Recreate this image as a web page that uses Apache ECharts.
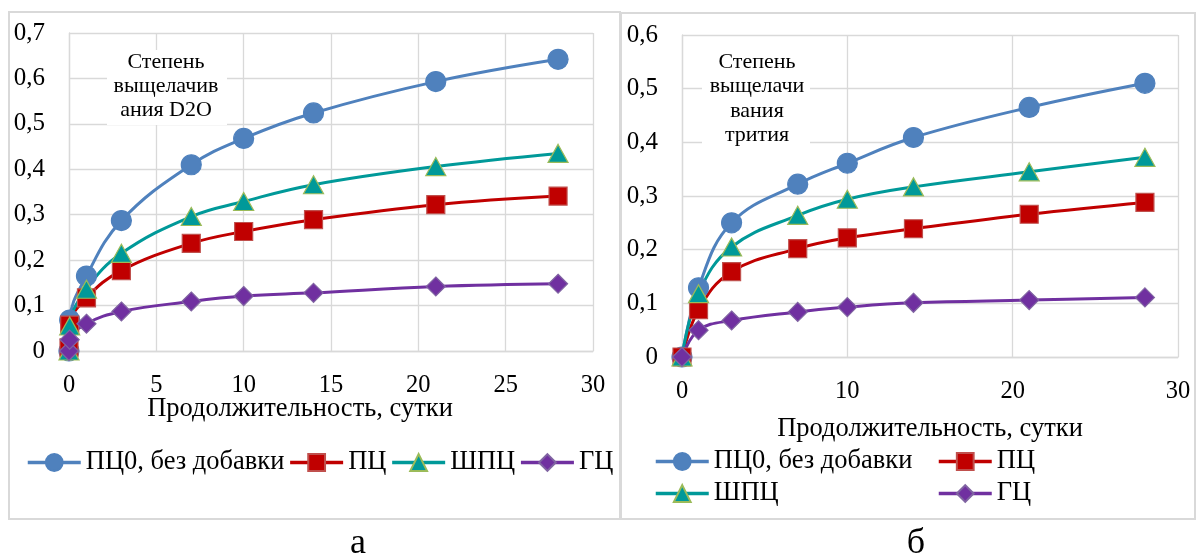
<!DOCTYPE html>
<html>
<head>
<meta charset="utf-8">
<script src="https://cdn.jsdelivr.net/npm/echarts@6/dist/echarts.min.js"></script>
<style>
  html, body { margin: 0; padding: 0; background: #ffffff; }
  #chart { width: 1197px; height: 556px; }
</style>
</head>
<body>
<div id="chart"></div>
<script>
// Leaching degree over time, panel "а" (D2O) and panel "б" (tritium)
const seriesNames = ['ПЦ0, без добавки', 'ПЦ', 'ШПЦ', 'ГЦ'];

// Panel а: leaching degree of D2O
const daysA = [0, 0.04, 1, 3, 7, 10, 14, 21, 28];
const pc0A  = [0, 0.068, 0.165, 0.287, 0.410, 0.468, 0.524, 0.593, 0.642];
const pcA   = [0.007, 0.057, 0.117, 0.177, 0.237, 0.263, 0.289, 0.322, 0.341];
const shpcA = [0, 0.055, 0.136, 0.215, 0.296, 0.329, 0.366, 0.406, 0.435];
const gcA   = [0, 0.025, 0.060, 0.087, 0.109, 0.121, 0.128, 0.142, 0.148];

// Panel б: leaching degree of tritium
const daysB = [0, 1, 3, 7, 10, 14, 21, 28];
const pc0B  = [0, 0.129, 0.250, 0.322, 0.361, 0.409, 0.465, 0.510];
const pcB   = [0, 0.088, 0.159, 0.202, 0.222, 0.239, 0.266, 0.288];
const shpcB = [0, 0.118, 0.205, 0.264, 0.294, 0.317, 0.345, 0.372];
const gcB   = [0, 0.050, 0.068, 0.084, 0.093, 0.101, 0.106, 0.111];

// Tick labels
const yTicksA = ['0', '0,1', '0,2', '0,3', '0,4', '0,5', '0,6', '0,7'];
const yTicksB = ['0', '0,1', '0,2', '0,3', '0,4', '0,5', '0,6'];
const xTitle = 'Продолжительность, сутки';
const noteA = 'Степень\nвыщелачив\nания D2O';
const noteB = 'Степень\nвыщелачи\nвания\nтрития';
const captions = ['а', 'б'];

const FONT = '"Liberation Serif", "DejaVu Serif", serif';
const GRID_COLOR = '#d9d9d9';

const styles = [
  { color: '#4f81bd', line: '#4f81bd', border: '#4f81bd', symbol: 'circle', size: 20 },
  { color: '#c00000', line: '#c00000', border: '#c0504d', symbol: 'rect', size: 18 },
  { color: '#009999', line: '#009999', border: '#9bbb59', symbol: 'triangle', size: [20, 18] },
  { color: '#7030a0', line: '#7030a0', border: '#8064a2', symbol: 'diamond', size: 19 }
];

function pairs(xs, ys) { return xs.map((x, i) => [x, ys[i]]); }

function makeSeries(name, idx, data, axisIndex) {
  const s = styles[idx];
  return {
    name: name,
    type: 'line',
    xAxisIndex: axisIndex,
    yAxisIndex: axisIndex,
    data: data,
    smooth: 0.4,
    symbol: s.symbol,
    symbolSize: s.size,
    lineStyle: { color: s.line, width: 3 },
    itemStyle: { color: s.color, borderColor: s.border, borderWidth: 1.2 },
    emphasis: { disabled: true },
    animation: false
  };
}

function valueAxis(gridIndex, max, interval, ticks, isY) {
  return {
    type: 'value',
    gridIndex: gridIndex,
    min: 0,
    max: max,
    interval: interval,
    axisLine: { show: true, lineStyle: { color: GRID_COLOR, width: 1.3 } },
    axisTick: { show: false },
    splitLine: { show: true, lineStyle: { color: GRID_COLOR, width: 1.3 } },
    axisLabel: {
      color: '#000',
      fontFamily: FONT,
      fontSize: isY ? 25 : 24.5,
      margin: isY ? 24 : 22,
      formatter: ticks ? (v) => ticks[Math.round(v / interval)] : (v) => String(v)
    }
  };
}

const legendText = { color: '#000', fontFamily: FONT, fontSize: 26.5 };
const legendCommon = {
  itemWidth: 53, itemHeight: 21, textStyle: legendText,
  lineStyle: { width: 3.5 },
  padding: 0,
  selectedMode: false
};

const option = {
  backgroundColor: '#ffffff',
  textStyle: { fontFamily: FONT },
  grid: [
    { left: 69, top: 33, width: 524, height: 318 },
    { left: 682, top: 35, width: 496, height: 322 }
  ],
  xAxis: [
    valueAxis(0, 30, 5, null, false),
    valueAxis(1, 30, 10, null, false)
  ],
  yAxis: [
    valueAxis(0, 0.7, 0.1, yTicksA, true),
    valueAxis(1, 0.6, 0.1, yTicksB, true)
  ],
  legend: [
    Object.assign({ data: seriesNames, left: 26, top: 449, orient: 'horizontal', itemGap: 4 }, legendCommon),
    Object.assign({ data: [seriesNames[0], seriesNames[2]], left: 654, top: 448, orient: 'vertical', itemGap: 5 }, legendCommon),
    Object.assign({ data: [seriesNames[1], seriesNames[3]], left: 937, top: 448, orient: 'vertical', itemGap: 5 }, legendCommon)
  ],
  graphic: [
    // panel frames
    { type: 'rect', shape: { x: 9, y: 12, width: 611, height: 507 }, style: { fill: 'none', stroke: GRID_COLOR, lineWidth: 2 }, z: -1 },
    { type: 'rect', shape: { x: 621, y: 13, width: 574, height: 506 }, style: { fill: 'none', stroke: GRID_COLOR, lineWidth: 2 }, z: -1 },
    // in-plot notes
    { type: 'rect', shape: { x: 107, y: 50, width: 120, height: 75 }, style: { fill: '#fff' }, z: 10 },
    { type: 'text', x: 166, y: 50, z: 11,
      style: { text: noteA, fill: '#000', font: '22px ' + FONT, textAlign: 'center', textVerticalAlign: 'top', lineHeight: 24 } },
    { type: 'rect', shape: { x: 702, y: 52, width: 108, height: 95 }, style: { fill: '#fff' }, z: 10 },
    { type: 'text', x: 757, y: 50, z: 11,
      style: { text: noteB, fill: '#000', font: '22px ' + FONT, textAlign: 'center', textVerticalAlign: 'top', lineHeight: 24.3 } },
    // axis titles
    { type: 'text', x: 300, y: 409, z: 5,
      style: { text: xTitle, fill: '#000', font: '26.5px ' + FONT, textAlign: 'center', textVerticalAlign: 'middle' } },
    { type: 'text', x: 930, y: 429, z: 5,
      style: { text: xTitle, fill: '#000', font: '26.5px ' + FONT, textAlign: 'center', textVerticalAlign: 'middle' } },
    // panel captions
    { type: 'text', x: 358, y: 544, z: 5,
      style: { text: captions[0], fill: '#000', font: '36px ' + FONT, textAlign: 'center', textVerticalAlign: 'middle' } },
    { type: 'text', x: 916, y: 544, z: 5,
      style: { text: captions[1], fill: '#000', font: '36px ' + FONT, textAlign: 'center', textVerticalAlign: 'middle' } }
  ],
  series: [
    makeSeries(seriesNames[0], 0, pairs(daysA, pc0A), 0),
    makeSeries(seriesNames[1], 1, pairs(daysA, pcA), 0),
    makeSeries(seriesNames[2], 2, pairs(daysA, shpcA), 0),
    makeSeries(seriesNames[3], 3, pairs(daysA, gcA), 0),
    makeSeries(seriesNames[0], 0, pairs(daysB, pc0B), 1),
    makeSeries(seriesNames[1], 1, pairs(daysB, pcB), 1),
    makeSeries(seriesNames[2], 2, pairs(daysB, shpcB), 1),
    makeSeries(seriesNames[3], 3, pairs(daysB, gcB), 1)
  ]
};

const chart = echarts.init(document.getElementById('chart'), null, { renderer: 'canvas' });
chart.setOption(option);
</script>
</body>
</html>
